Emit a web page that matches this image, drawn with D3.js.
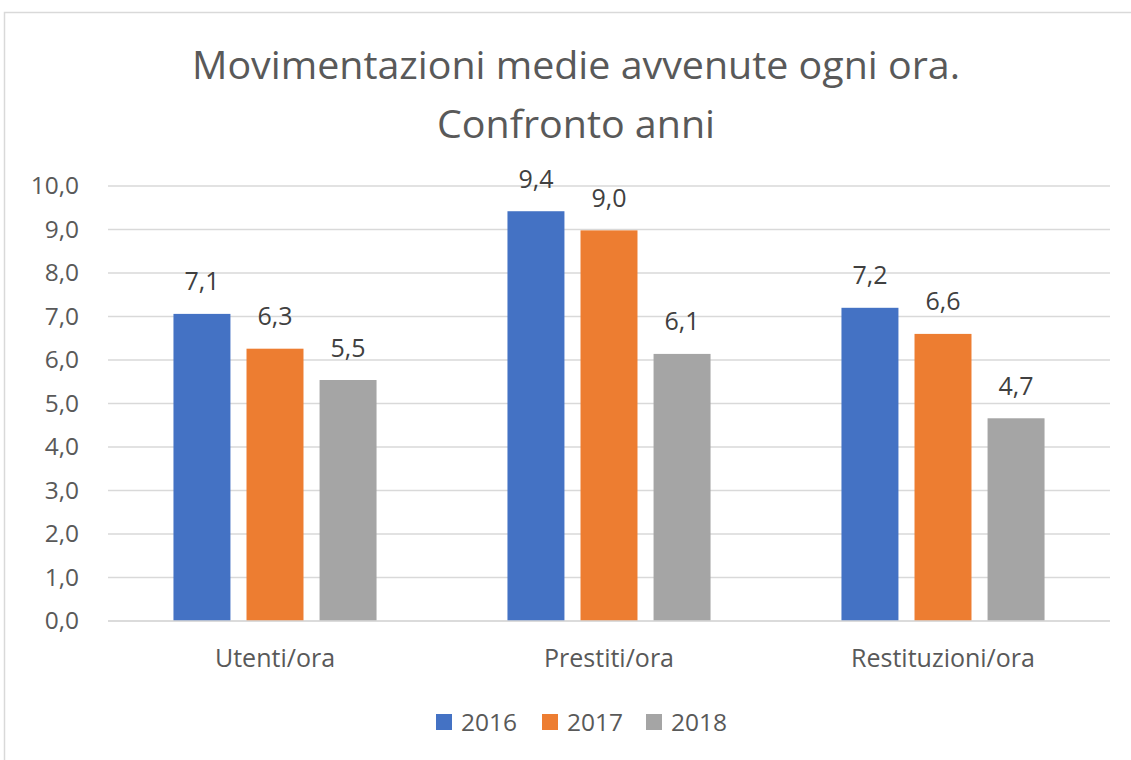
<!DOCTYPE html>
<html><head><meta charset="utf-8">
<script src="https://cdn.jsdelivr.net/npm/d3@7"></script>
<style>html,body{margin:0;padding:0;background:#fff}svg{display:block}</style>
</head><body>
<svg id="c" width="1131" height="760"></svg>
<script>
const categories = ["Utenti/ora", "Prestiti/ora", "Restituzioni/ora"];
const years = ["2016", "2017", "2018"];
const values2016 = [7.06, 9.42, 7.2];
const values2017 = [6.26, 8.98, 6.6];
const values2018 = [5.54, 6.14, 4.66];
const yTicks = [0,1,2,3,4,5,6,7,8,9,10];
const titleLines = ["Movimentazioni medie avvenute ogni ora.", "Confronto anni"];
const colors = ["#4472C4", "#ED7D31", "#A5A5A5"];

(function () {
const seriesVals = [values2016, values2017, values2018];
const svg = d3.select("#c");
const font = "'Open Sans', 'Noto Sans', sans-serif";
const fmt = v => d3.format(".1f")(v).replace(".", ",");

// chart border
svg.append("rect").attr("x", 4.5).attr("y", 12.5).attr("width", 1200).attr("height", 800)
  .attr("fill", "#fff").attr("stroke", "#d9d9d9").attr("stroke-width", 1.5);

// title
const tl = svg.append("g");
tl.append("text").attr("x", 576).attr("y", 79).attr("text-anchor", "middle")
  .attr("font-family", font).attr("font-size", 38).attr("fill", "#595959")
  .attr("textLength", 768).attr("lengthAdjust", "spacingAndGlyphs").text(titleLines[0]);
tl.append("text").attr("x", 576).attr("y", 138).attr("text-anchor", "middle")
  .attr("font-family", font).attr("font-size", 38).attr("fill", "#595959")
  .attr("textLength", 278).attr("lengthAdjust", "spacingAndGlyphs").text(titleLines[1]);

const pL = 108, pR = 1110, pT = 186, pB = 621;
const y = d3.scaleLinear().domain([0, 10]).range([pB, pT]);
const x0 = d3.scaleBand().domain(categories).range([pL, pR]).paddingInner(0.392).paddingOuter(0.196);
const x1 = d3.scaleBand().domain(years).range([0, x0.bandwidth()]).paddingInner(0.22).paddingOuter(0);

// gridlines
svg.append("g").selectAll("line").data(yTicks).join("line")
  .attr("x1", pL).attr("x2", pR).attr("y1", d => y(d)).attr("y2", d => y(d))
  .attr("stroke", "#d9d9d9").attr("stroke-width", 1.5);

// y axis labels
const yAxis = d3.axisLeft(y).tickValues(yTicks).tickFormat(fmt).tickSize(0).tickPadding(0);
const ya = svg.append("g").attr("transform", `translate(79,0)`).call(yAxis);
ya.select(".domain").remove();
ya.selectAll("text").attr("font-family", font).attr("font-size", 24.5).attr("fill", "#595959");

// bars
const groups = svg.append("g").selectAll("g").data(categories).join("g")
  .attr("transform", d => `translate(${x0(d)},0)`);
groups.each(function(cat, ci) {
  const g = d3.select(this);
  years.forEach((yr, si) => {
    const v = seriesVals[si][ci];
    g.append("rect").attr("x", x1(yr)).attr("width", x1.bandwidth())
      .attr("y", y(v)).attr("height", y(0) - y(v)).attr("fill", colors[si]);
    g.append("text").attr("x", x1(yr) + x1.bandwidth() / 2).attr("y", y(v) - 23.5)
      .attr("text-anchor", "middle").attr("font-family", font).attr("font-size", 25)
      .attr("fill", "#404040").text(fmt(v));
  });
});

// x axis line
svg.append("line").attr("x1", pL).attr("x2", pR).attr("y1", pB).attr("y2", pB)
  .attr("stroke", "#d9d9d9").attr("stroke-width", 1.5);
const xAxis = d3.axisBottom(x0).tickSize(0).tickPadding(0);
const xa = svg.append("g").attr("transform", `translate(0,${pB})`).call(xAxis);
xa.select(".domain").remove();
xa.selectAll("text").attr("y", 46).attr("dy", 0).attr("font-family", font).attr("font-size", 25).attr("fill", "#595959");

// legend
const legX = [436, 542, 646];
const leg = svg.append("g").selectAll("g").data(years).join("g")
  .attr("transform", (d, i) => `translate(${legX[i]},714)`);
leg.append("rect").attr("width", 16).attr("height", 16).attr("fill", (d, i) => colors[i]);
leg.append("text").attr("x", 25).attr("y", 17).attr("font-family", font).attr("font-size", 24.5)
  .attr("fill", "#595959").text(d => d);
})();
</script>
</body></html>
